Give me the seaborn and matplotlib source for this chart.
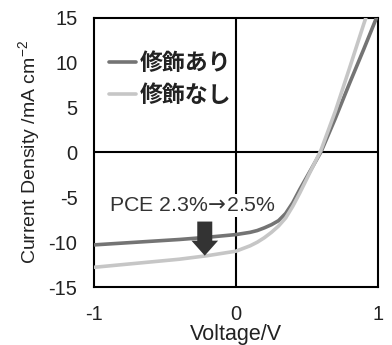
import matplotlib
matplotlib.use("Agg")
import matplotlib.pyplot as plt
import seaborn as sns
import pandas as pd
from matplotlib.lines import Line2D

# data
voltage = [-1.0, -0.8, -0.6, -0.4, -0.2, 0.0, 0.1, 0.15, 0.2, 0.25, 0.3, 0.35, 0.4, 0.45, 0.5, 0.55, 0.6, 0.7, 0.8, 0.9, 1.0]
with_mod = [-10.3, -10.1, -9.9, -9.7, -9.45, -9.15, -8.9, -8.7, -8.4, -8.05, -7.6, -6.8, -5.6, -4.1, -2.7, -1.3, 0.1, 3.8, 7.7, 11.5, 15.4]
without_mod = [-12.8, -12.5, -12.2, -11.9, -11.5, -11.0, -10.4, -10.0, -9.5, -8.9, -8.2, -7.3, -6.0, -4.5, -2.9, -1.3, 0.3, 4.6, 9.4, 14.3, 19.0]
series_names = ["修飾あり", "修飾なし"]
annotation = r"PCE 2.3%$\!\mathsf{\rightarrow}\!$2.5%"
xticks = [-1, 0, 1]
yticks = [-15, -10, -5, 0, 5, 10, 15]

df = pd.DataFrame({
    "V": voltage * 2,
    "J": with_mod + without_mod,
    "series": [series_names[0]] * len(voltage) + [series_names[1]] * len(voltage),
})

sns.set_theme(style="white")
plt.rcParams["font.family"] = ["Liberation Sans", "Noto Sans CJK JP", "DejaVu Sans"]
plt.rcParams["mathtext.fontset"] = "custom"
plt.rcParams["mathtext.rm"] = "Liberation Sans"
plt.rcParams["mathtext.sf"] = "DejaVu Sans"
plt.rcParams["axes.unicode_minus"] = False

fig = plt.figure(figsize=(3.92, 3.45), dpi=100)
ax = fig.add_axes([0.240, 0.168, 0.724, 0.780])

palette = {series_names[0]: "#747474", series_names[1]: "#c6c6c6"}
sns.lineplot(data=df, x="V", y="J", hue="series", palette=palette, linewidth=2.6,
             ax=ax, legend=False, zorder=3)

ax.axhline(0, color="black", lw=1.5, zorder=1)
ax.axvline(0, color="black", lw=1.5, zorder=1)

ax.set_xlim(-1, 1)
ax.set_ylim(-15, 15)
ax.set_xticks(xticks)
ax.set_yticks(yticks)
ax.tick_params(axis="both", length=0, labelsize=14.5, colors="#222222")
ax.tick_params(axis="y", pad=12)
ax.tick_params(axis="x", pad=13)
for s in ax.spines.values():
    s.set_color("black")
    s.set_linewidth(1.5)

ax.set_xlabel("Voltage/V", fontsize=15.5, color="#222222", labelpad=0)
ax.set_ylabel(r"Current Density /mA cm$^{-2}$", fontsize=14, color="#222222", labelpad=4)

# legend
handles = [Line2D([0], [0], color=palette[n], lw=2.6) for n in series_names]
leg = ax.legend(handles, series_names, loc="upper left", bbox_to_anchor=(0.0, 0.93),
                frameon=False, handlelength=1.2, handletextpad=0.15, labelspacing=0.4,
                borderaxespad=0.25,
                prop={"family": ["Noto Sans CJK JP"], "weight": "bold", "size": 16.5})
for t in leg.get_texts():
    t.set_color("#222222")

# annotation with white box
ax.text(-0.31, -5.9, annotation, ha="center", va="center", fontsize=15.3, color="#333333",
        zorder=4, bbox=dict(facecolor="white", edgecolor="none", pad=1.5))
ax.annotate("", xy=(-0.22, -11.5), xytext=(-0.22, -7.7), zorder=5,
            arrowprops=dict(arrowstyle="simple,head_width=1.6,head_length=0.9,tail_width=0.9",
                            color="#333333", lw=0, shrinkA=0, shrinkB=0))

fig.savefig("out.png", dpi=100)
